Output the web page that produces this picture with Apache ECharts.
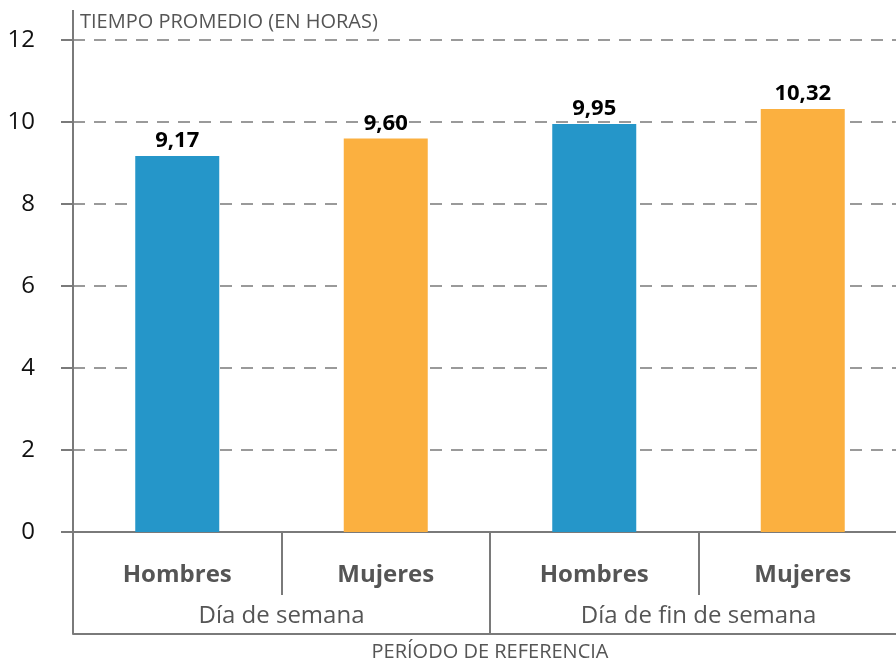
<!DOCTYPE html>
<html>
<head>
<meta charset="utf-8">
<script src="https://cdn.jsdelivr.net/npm/echarts@6/dist/echarts.min.js"></script>
<style>
  html, body { margin: 0; padding: 0; background: #fff; }
  #main { width: 896px; height: 662px; }
</style>
</head>
<body>
<div id="main"></div>
<script>
// datos del gráfico
var categorias = ['Hombres', 'Mujeres', 'Hombres', 'Mujeres'];
var periodos = ['Día de semana', 'Día de fin de semana'];
var valores = [9.17, 9.60, 9.95, 10.32];
var colores = ['#2596C9', '#FBB040', '#2596C9', '#FBB040'];

var gris = '#7a7a7a';
var fuente = '"Open Sans", "Noto Sans", sans-serif';

var chart = echarts.init(document.getElementById('main'));

var option = {
  animation: false,
  textStyle: { fontFamily: fuente },
  title: {
    text: 'TIEMPO PROMEDIO (EN HORAS)',
    left: 75,
    top: 7,
    textStyle: { fontSize: 20, fontWeight: 'normal', color: '#555', fontFamily: fuente }
  },
  grid: { left: 73, right: -11, top: 40, bottom: 130, outerBoundsMode: 'none', containLabel: false },
  xAxis: [{
    type: 'category',
    data: categorias,
    axisLine: { show: true, lineStyle: { color: gris, width: 2 } },
    axisTick: { show: true, length: 63, interval: 0, lineStyle: { color: gris, width: 2 } },
    axisLabel: { margin: 31, fontSize: 24, fontWeight: 'bold', color: '#555', interval: 0 }
  }, {
    type: 'category',
    position: 'bottom',
    offset: 102,
    data: periodos,
    axisLine: { show: true, lineStyle: { color: gris, width: 2 } },
    axisTick: { show: true, inside: true, length: 102, interval: 0, lineStyle: { color: gris, width: 2 } },
    axisLabel: { inside: true, margin: 6, fontSize: 24, color: '#555', interval: 0 },
    name: 'PERÍODO DE REFERENCIA',
    nameLocation: 'middle',
    nameGap: 8,
    nameTextStyle: { fontSize: 20, color: '#555' }
  }],
  yAxis: {
    type: 'value',
    min: 0,
    max: 12,
    interval: 2,
    axisLine: { show: true, lineStyle: { color: gris, width: 2 } },
    axisTick: { show: true, length: 12, lineStyle: { color: gris, width: 2 } },
    axisLabel: { margin: 38, fontSize: 24, color: '#111' },
    splitLine: { lineStyle: { color: gris, width: 1.5, type: [12, 9] } }
  },
  graphic: [{
    type: 'line',
    shape: { x1: 73, y1: 10, x2: 73, y2: 40 },
    style: { stroke: gris, lineWidth: 2 }
  }],
  series: [{
    type: 'bar',
    barWidth: 84,
    data: valores.map(function (v, i) {
      return { value: v, itemStyle: { color: colores[i] } };
    }),
    label: {
      show: true,
      position: 'top',
      distance: 4,
      fontSize: 22,
      fontWeight: 'bold',
      color: '#000',
      formatter: function (p) { return p.value.toFixed(2).replace('.', ','); }
    }
  }]
};

chart.setOption(option);
</script>
</body>
</html>
